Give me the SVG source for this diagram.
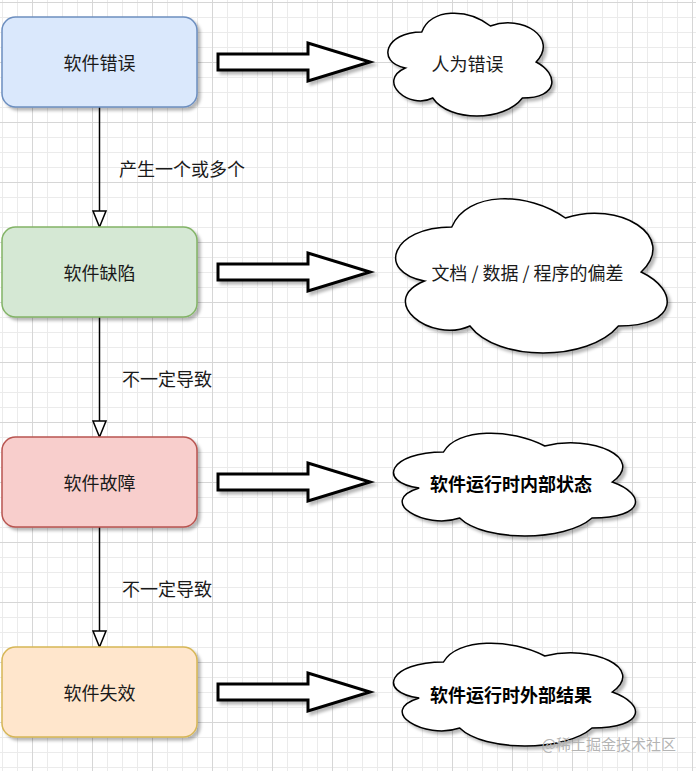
<svg xmlns="http://www.w3.org/2000/svg" width="696" height="771" viewBox="0 0 696 771">
<style>
.box{stroke-width:1.5}
.lbl{font-family:"Noto Sans CJK SC","Noto Sans",sans-serif;font-size:18px;fill:#1a1a1a;dominant-baseline:central}
.mid{text-anchor:middle}
.bold{font-weight:bold;fill:#000}
.cloud{fill:#fff;stroke:#000;stroke-width:1.5}
.blk{fill:#fff;stroke:#000;stroke-width:3;stroke-linejoin:miter}
.edge{stroke:#000;stroke-width:1.5;fill:none}
.head{fill:#fff;stroke:#000;stroke-width:1.5}
</style>
<defs>
<pattern id="grid" x="2" y="2" width="60" height="60" patternUnits="userSpaceOnUse">
<path d="M0.5,0V60M15.5,0V60M45.5,0V60M0,15.5H60M0,30.5H60M0,45.5H60" stroke="#ebebeb" stroke-width="1"/>
<path d="M30.5,0V60M0,0.5H60" stroke="#d6d6d6" stroke-width="1"/>
</pattern>
<filter id="sh" x="-10%" y="-10%" width="130%" height="130%">
<feDropShadow dx="3" dy="3" stdDeviation="1.8" flood-color="#000" flood-opacity="0.28"/>
</filter>
</defs>
<rect width="696" height="771" fill="#fff"/>
<rect width="696" height="771" fill="url(#grid)"/>

<g id="connectors">
<g id="edge1"><path class="edge" d="M99.5,107V211"/><path class="head" d="M93,211H106L99.5,227Z"/><text class="lbl" x="119" y="168">产生一个或多个</text></g>
<g id="edge2"><path class="edge" d="M99.5,317V421"/><path class="head" d="M93,421H106L99.5,437Z"/><text class="lbl" x="122" y="378">不一定导致</text></g>
<g id="edge3"><path class="edge" d="M99.5,527V631"/><path class="head" d="M93,631H106L99.5,647Z"/><text class="lbl" x="122" y="588">不一定导致</text></g>
<g id="blockarrows" filter="url(#sh)">
<path class="blk" d="M218,54H308V43L370,62L308,81V70H218Z"/>
<path class="blk" d="M218,264H308V253L370,272L308,291V280H218Z"/>
<path class="blk" d="M218,474H308V463L370,482L308,501V490H218Z"/>
<path class="blk" d="M218,684H308V673L370,692L308,711V700H218Z"/>
</g>
</g>

<g id="node-error">
<rect class="box" x="2" y="17" width="195" height="90" rx="13.5" fill="#dae8fc" stroke="#6c8ebf" filter="url(#sh)"/>
<text class="lbl mid" x="99.5" y="62">软件错误</text>
</g>
<g id="node-defect">
<rect class="box" x="2" y="227" width="195" height="90" rx="13.5" fill="#d5e8d4" stroke="#82b366" filter="url(#sh)"/>
<text class="lbl mid" x="99.5" y="272">软件缺陷</text>
</g>
<g id="node-fault">
<rect class="box" x="2" y="437" width="195" height="90" rx="13.5" fill="#f8cecc" stroke="#b85450" filter="url(#sh)"/>
<text class="lbl mid" x="99.5" y="482">软件故障</text>
</g>
<g id="node-failure">
<rect class="box" x="2" y="647" width="195" height="90" rx="13.5" fill="#ffe6cc" stroke="#d6b656" filter="url(#sh)"/>
<text class="lbl mid" x="99.5" y="692">软件失效</text>
</g>

<g id="cloud-human">
<path class="cloud" filter="url(#sh)" d="M421.75,32 C385.15,32 376,62 405.28,68 C376,81.2 408.94,110 432.73,98 C449.2,122 504.1,122 522.4,98 C559,98 559,74 536.13,62 C559,38 522.4,14 490.38,26 C467.5,8 430.9,8 421.75,32 Z"/>
<text class="lbl mid" x="467.5" y="63">人为错误</text>
</g>
<g id="cloud-deviation">
<path class="cloud" filter="url(#sh)" d="M451.75,227 C391.15,227 376,272 424.48,281 C376,300.8 430.54,344 469.93,326 C497.2,362 588.1,362 618.4,326 C679,326 679,290 641.13,272 C679,236 618.4,200 565.38,218 C527.5,191 466.9,191 451.75,227 Z"/>
<text class="lbl mid" x="527.5" y="272">文档 / 数据 / 程序的偏差</text>
</g>
<g id="cloud-internal">
<path class="cloud" filter="url(#sh)" d="M443.5,452 C389.5,452 376,482 419.2,488 C376,501.2 424.6,530 459.7,518 C484,542 565,542 592,518 C646,518 646,494 612.25,482 C646,458 592,434 544.75,446 C511,428 457,428 443.5,452 Z"/>
<text class="lbl mid bold" x="511" y="483">软件运行时内部状态</text>
</g>
<g id="cloud-external">
<path class="cloud" filter="url(#sh)" d="M443.5,662 C389.5,662 376,692 419.2,698 C376,711.2 424.6,740 459.7,728 C484,752 565,752 592,728 C646,728 646,704 612.25,692 C646,668 592,644 544.75,656 C511,638 457,638 443.5,662 Z"/>
<text class="lbl mid bold" x="511" y="694">软件运行时外部结果</text>
</g>

<text x="676" y="743" text-anchor="end" dominant-baseline="central" font-family="Noto Sans CJK SC, Noto Sans, sans-serif" font-size="15" fill="#b4b4b4">@稀土掘金技术社区</text>
</svg>
